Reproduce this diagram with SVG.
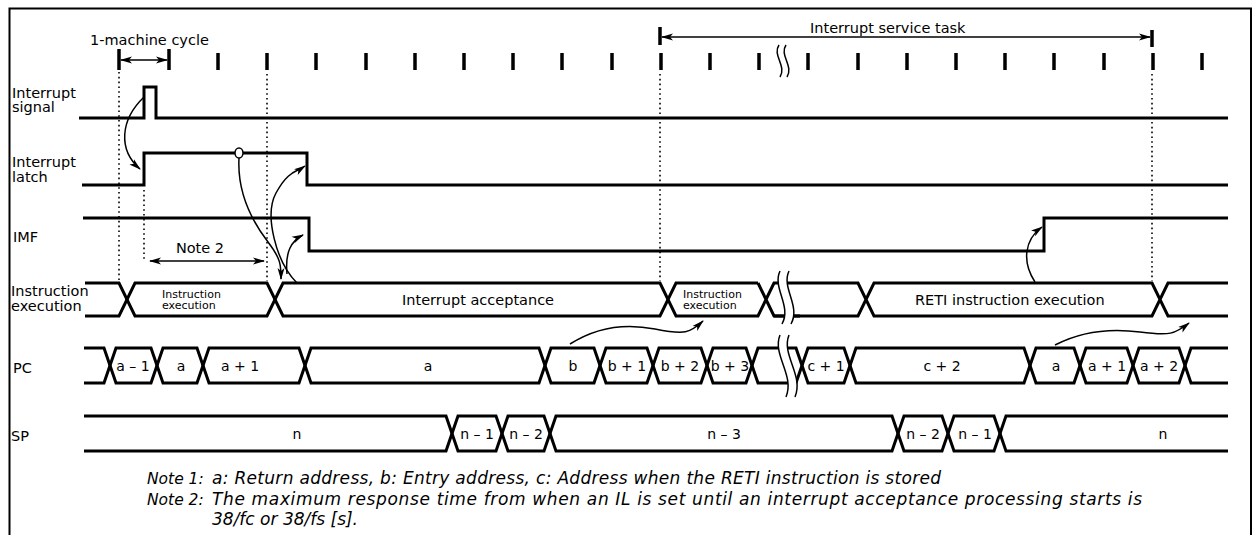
<svg xmlns="http://www.w3.org/2000/svg" width="1257" height="535" viewBox="0 0 1257 535">
<defs>
<style>
.lbl{font-family:"DejaVu Sans",sans-serif;font-size:14.5px;fill:#000}
.val{font-family:"DejaVu Sans",sans-serif;font-size:14px;fill:#000;text-anchor:middle}
.sm{font-family:"DejaVu Sans",sans-serif;font-size:11px;fill:#000}
.note{font-family:"DejaVu Sans",sans-serif;font-style:italic;font-size:17px;fill:#000}
.nlab{font-family:"DejaVu Sans",sans-serif;font-style:italic;font-size:15.5px;fill:#000}
.sig{fill:none;stroke:#000;stroke-width:3}
.bus{fill:none;stroke:#000;stroke-width:3;stroke-linejoin:miter}
.tick{stroke:#000;stroke-width:3.5}
.dot{stroke:#000;stroke-width:1.6;stroke-dasharray:1.6 3.2}
.arr{fill:none;stroke:#000;stroke-width:1.5}
.wave{fill:none;stroke:#000;stroke-width:1.5}
.cover{fill:#fff;stroke:none}
</style>
<marker id="ah" viewBox="0 0 12 8" markerWidth="12" markerHeight="8" refX="11" refY="4" orient="auto-start-reverse" markerUnits="userSpaceOnUse"><path d="M0,0.5 L12,4 L0,7.5 L3,4 Z" fill="#000"/></marker>
</defs>
<rect width="1257" height="535" fill="#fff"/>
<path d="M9.5,535 V8.5 H1251 V535" fill="none" stroke="#000" stroke-width="2"/>

<g id="clock">
<g class="tick">
<line x1="119" y1="49" x2="119" y2="70"/><line x1="169" y1="49" x2="169" y2="70"/>
<line x1="218" y1="53" x2="218" y2="70"/><line x1="267" y1="53" x2="267" y2="70"/>
<line x1="316" y1="53" x2="316" y2="70"/><line x1="366" y1="53" x2="366" y2="70"/>
<line x1="415" y1="53" x2="415" y2="70"/><line x1="464" y1="53" x2="464" y2="70"/>
<line x1="513" y1="53" x2="513" y2="70"/><line x1="562" y1="53" x2="562" y2="70"/>
<line x1="612" y1="53" x2="612" y2="70"/><line x1="661" y1="53" x2="661" y2="70"/>
<line x1="710" y1="53" x2="710" y2="70"/><line x1="759" y1="53" x2="759" y2="70"/>
<line x1="808" y1="53" x2="808" y2="70"/><line x1="858" y1="53" x2="858" y2="70"/>
<line x1="907" y1="53" x2="907" y2="70"/><line x1="956" y1="53" x2="956" y2="70"/>
<line x1="1005" y1="53" x2="1005" y2="70"/><line x1="1054" y1="53" x2="1054" y2="70"/>
<line x1="1104" y1="53" x2="1104" y2="70"/><line x1="1153" y1="53" x2="1153" y2="70"/>
<line x1="1202" y1="53" x2="1202" y2="70"/>
<line x1="660" y1="27" x2="660" y2="45"/><line x1="1152" y1="30" x2="1152" y2="47"/>
</g>
<path class="wave" d="M779,45 C772,55 787,66 780,77 M786,45 C779,55 794,66 787,77"/>
<line class="arr" x1="121" y1="60" x2="167" y2="60" marker-start="url(#ah)" marker-end="url(#ah)"/>
<text class="lbl" x="90" y="45">1-machine cycle</text>
<line class="arr" x1="662" y1="37" x2="1150" y2="37" marker-start="url(#ah)" marker-end="url(#ah)"/>
<text class="lbl" x="810" y="33">Interrupt service task</text>
</g>

<g id="guides">
<line class="dot" x1="119" y1="72" x2="119" y2="281"/>
<line class="dot" x1="144" y1="190" x2="144" y2="260"/>
<line class="dot" x1="267" y1="74" x2="267" y2="281"/>
<line class="dot" x1="660" y1="74" x2="660" y2="281"/>
<line class="dot" x1="1152" y1="74" x2="1152" y2="281"/>
</g>

<g id="interrupt-signal">
<text class="lbl" x="12" y="98">Interrupt</text>
<text class="lbl" x="12" y="112">signal</text>
<path class="sig" d="M79,118 H144 V87 H156 V118 H1228"/>
</g>

<g id="interrupt-latch">
<text class="lbl" x="12" y="167">Interrupt</text>
<text class="lbl" x="12" y="182">latch</text>
<path class="sig" d="M82,185 H144 V153 H307 V185 H1228"/>
<ellipse cx="239" cy="153" rx="4" ry="5" fill="#fff" stroke="#000" stroke-width="1.5"/>
</g>

<g id="imf">
<text class="lbl" x="13" y="242">IMF</text>
<path class="sig" d="M83,218 H309 V251 H1044 V218 H1228"/>
<line class="arr" x1="150" y1="261" x2="264" y2="261" marker-start="url(#ah)" marker-end="url(#ah)"/>
<text class="lbl" x="200" y="253" text-anchor="middle">Note 2</text>
</g>

<g id="instruction-execution">
<text class="lbl" x="11" y="296">Instruction</text>
<text class="lbl" x="11" y="311">execution</text>
<path class="bus" d="M85,283 H119 L135,316 H267 L283,283 H660 L676,316 H758 L774,283 H800 M800,316 H774 L758,283"/>
<path class="bus" d="M85,316 H119 L135,283 H267 L283,316 H660 L676,283 H758"/>
<path class="bus" d="M774,316 H858 L874,283 H1152 L1168,316 H1228 M800,283 H858 L874,316 H1152 L1168,283 H1228"/>
<path class="cover" d="M780,271 C772,288 792,306 782,324 L791,324 C801,306 781,288 789,271 Z"/>
<path class="wave" d="M780,271 C772,288 792,306 782,324 M789,271 C781,288 801,306 791,324"/>
<text class="sm" x="162" y="298">Instruction</text>
<text class="sm" x="162" y="309">execution</text>
<text class="lbl" x="402" y="305">Interrupt acceptance</text>
<text class="sm" x="683" y="298">Instruction</text>
<text class="sm" x="683" y="309">execution</text>
<text class="lbl" x="915" y="305">RETI instruction execution</text>
</g>

<g id="pc">
<text class="lbl" x="13" y="373">PC</text>
<path class="bus" d="M84,348 H104 L116,383 H151 L163,348 H197 L209,383 H299 L311,348 H539 L551,383 H594 L606,348 H647 L659,383 H701 L713,348 H746 L758,383 H796 L808,348 H844 L856,383 H1024 L1036,348 H1074 L1086,383 H1127 L1139,348 H1179 L1191,383 H1228"/>
<path class="bus" d="M84,383 H104 L116,348 H151 L163,383 H197 L209,348 H299 L311,383 H539 L551,348 H594 L606,383 H647 L659,348 H701 L713,383 H746 L758,348 H796 L808,383 H844 L856,348 H1024 L1036,383 H1074 L1086,348 H1127 L1139,383 H1179 L1191,348 H1228"/>
<path class="cover" d="M780,335 C772,355 795,375 786,397 L795,397 C804,375 781,355 789,335 Z"/>
<path class="wave" d="M780,335 C772,355 795,375 786,397 M789,335 C781,355 804,375 795,397"/>
<text class="val" x="133" y="371">a – 1</text>
<text class="val" x="181" y="371">a</text>
<text class="val" x="240" y="371">a + 1</text>
<text class="val" x="428" y="371">a</text>
<text class="val" x="573" y="371">b</text>
<text class="val" x="627" y="371">b + 1</text>
<text class="val" x="680" y="371">b + 2</text>
<text class="val" x="730" y="371">b + 3</text>
<text class="val" x="826" y="371">c + 1</text>
<text class="val" x="942" y="371">c + 2</text>
<text class="val" x="1056" y="371">a</text>
<text class="val" x="1107" y="371">a + 1</text>
<text class="val" x="1159" y="371">a + 2</text>
</g>

<g id="sp">
<text class="lbl" x="11" y="441">SP</text>
<path class="bus" d="M84,416 H446 L458,451 H496 L508,416 H544 L556,451 H892 L904,416 H942 L954,451 H994 L1006,416 H1228"/>
<path class="bus" d="M84,451 H446 L458,416 H496 L508,451 H544 L556,416 H892 L904,451 H942 L954,416 H994 L1006,451 H1228"/>
<text class="val" x="297" y="439">n</text>
<text class="val" x="477" y="439">n – 1</text>
<text class="val" x="526" y="439">n – 2</text>
<text class="val" x="724" y="439">n – 3</text>
<text class="val" x="923" y="439">n – 2</text>
<text class="val" x="975" y="439">n – 1</text>
<text class="val" x="1163" y="439">n</text>
</g>

<g id="connectors">
<path class="arr" d="M144,97 C120,120 118,150 140,169" marker-end="url(#ah)"/>
<path class="arr" d="M239,158 C237,195 255,225 268,242 S281,265 281,279" marker-end="url(#ah)"/>
<path class="arr" d="M297,283 C276,262 264,215 276,193 S296,172 305,166" marker-end="url(#ah)"/>
<path class="arr" d="M287,274 C285,252 291,241 303,235" marker-end="url(#ah)"/>
<path class="arr" d="M570,344 C595,328 625,323 655,329 S690,333 703,321" marker-end="url(#ah)"/>
<path class="arr" d="M1055,345 C1080,332 1110,328 1140,332 S1175,334 1189,323" marker-end="url(#ah)"/>
<path class="arr" d="M1035,282 C1022,262 1024,240 1042,227" marker-end="url(#ah)"/>
</g>

<g id="notes">
<text class="nlab" x="147" y="484">Note 1:</text>
<text class="note" x="212" y="484" textLength="729" lengthAdjust="spacing">a: Return address, b: Entry address, c: Address when the RETI instruction is stored</text>
<text class="nlab" x="147" y="505">Note 2:</text>
<text class="note" x="212" y="505" textLength="930" lengthAdjust="spacing">The maximum response time from when an IL is set until an interrupt acceptance processing starts is</text>
<text class="note" x="212" y="525">38/fc or 38/fs [s].</text>
</g>
</svg>
